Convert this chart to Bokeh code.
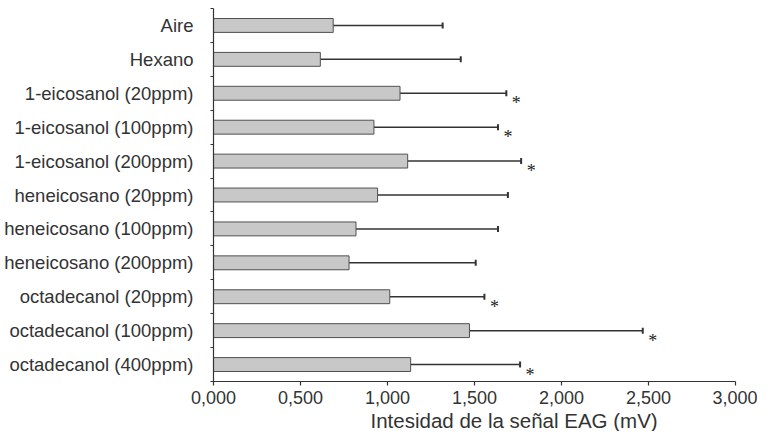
from bokeh.plotting import figure
from bokeh.models import Range1d, FixedTicker, ColumnDataSource, Whisker, TeeHead, Title
from bokeh.embed import file_html
from bokeh.resources import INLINE

categories = ["Aire", "Hexano", "1-eicosanol (20ppm)", "1-eicosanol (100ppm)",
              "1-eicosanol (200ppm)", "heneicosano (20ppm)", "heneicosano (100ppm)",
              "heneicosano (200ppm)", "octadecanol (20ppm)", "octadecanol (100ppm)",
              "octadecanol (400ppm)"]
means = [688, 614, 1072, 922, 1116, 943, 819, 779, 1013, 1471, 1133]
upper_err = [1317, 1421, 1683, 1635, 1768, 1692, 1635, 1507, 1557, 2467, 1762]
signif = ["", "", "*", "*", "*", "", "", "", "*", "*", "*"]
x_ticks = [0, 500, 1000, 1500, 2000, 2500, 3000]
x_tick_labels = ["0,000", "0,500", "1,000", "1,500", "2,000", "2,500", "3,000"]
x_title = "Intesidad de la señal EAG (mV)"

n = len(categories)
pos = [n - 1 - i for i in range(n)]

src = ColumnDataSource(dict(y=pos, mean=means, up=upper_err, sig=signif, cat=categories))

FONT = "Liberation Sans"
TXT = "#333333"

p = figure(width=757, height=431, output_backend="svg", toolbar_location=None,
           x_range=Range1d(0, 3000), y_range=Range1d(-0.5, n - 0.5),
           min_border_left=213, min_border_right=22, min_border_top=8, min_border_bottom=49)
p.outline_line_color = None
p.xgrid.visible = False
p.ygrid.visible = False
p.background_fill_color = "white"
p.border_fill_color = "white"

p.hbar(y="y", left=0, right="mean", height=0.41, source=src,
       fill_color="#c8c8c8", line_color="#505050", line_width=1)

w = Whisker(source=src, base="y", lower="mean", upper="up", dimension="width",
            line_color="#333333", line_width=1.5,
            upper_head=TeeHead(size=6, line_color="#333333", line_width=2),
            lower_head=None)
p.add_layout(w)

p.text(x="up", y="y", text="sig", source=src, x_offset=10, y_offset=10,
       text_align="center", text_baseline="middle", text_font_size="18px",
       text_color="#222222", text_font=FONT)

# x axis
xa = p.xaxis[0]
xa.ticker = FixedTicker(ticks=x_ticks)
xa.major_label_overrides = {t: l for t, l in zip(x_ticks, x_tick_labels)}
xa.major_tick_out = 4
xa.major_tick_in = 0
xa.minor_tick_line_color = None
xa.axis_line_color = "#333333"
xa.axis_line_width = 1.2
xa.major_tick_line_color = "#333333"
xa.major_tick_line_width = 1.2
xa.major_label_text_font = FONT
xa.major_label_text_font_size = "18px"
xa.major_label_text_color = TXT
xa.major_label_standoff = 5

# y axis
ya = p.yaxis[0]
ya.ticker = FixedTicker(ticks=pos, minor_ticks=[i - 0.5 for i in range(n + 1)])
ya.major_label_overrides = {y: c for y, c in zip(pos, categories)}
ya.major_tick_line_color = None
ya.major_tick_out = 0
ya.major_tick_in = 0
ya.minor_tick_out = 3
ya.minor_tick_in = 0
ya.minor_tick_line_color = "#333333"
ya.minor_tick_line_width = 1.2
ya.axis_line_color = "#333333"
ya.axis_line_width = 1.2
ya.major_label_text_font = FONT
ya.major_label_text_font_size = "18.5px"
ya.major_label_text_color = TXT
ya.major_label_standoff = 17

t = Title(text=x_title, align="left", offset=157, standoff=0,
          text_font=FONT, text_font_size="20.5px", text_font_style="normal",
          text_color=TXT)
p.add_layout(t, "below")

open("out.html", "w").write(file_html(p, INLINE))
